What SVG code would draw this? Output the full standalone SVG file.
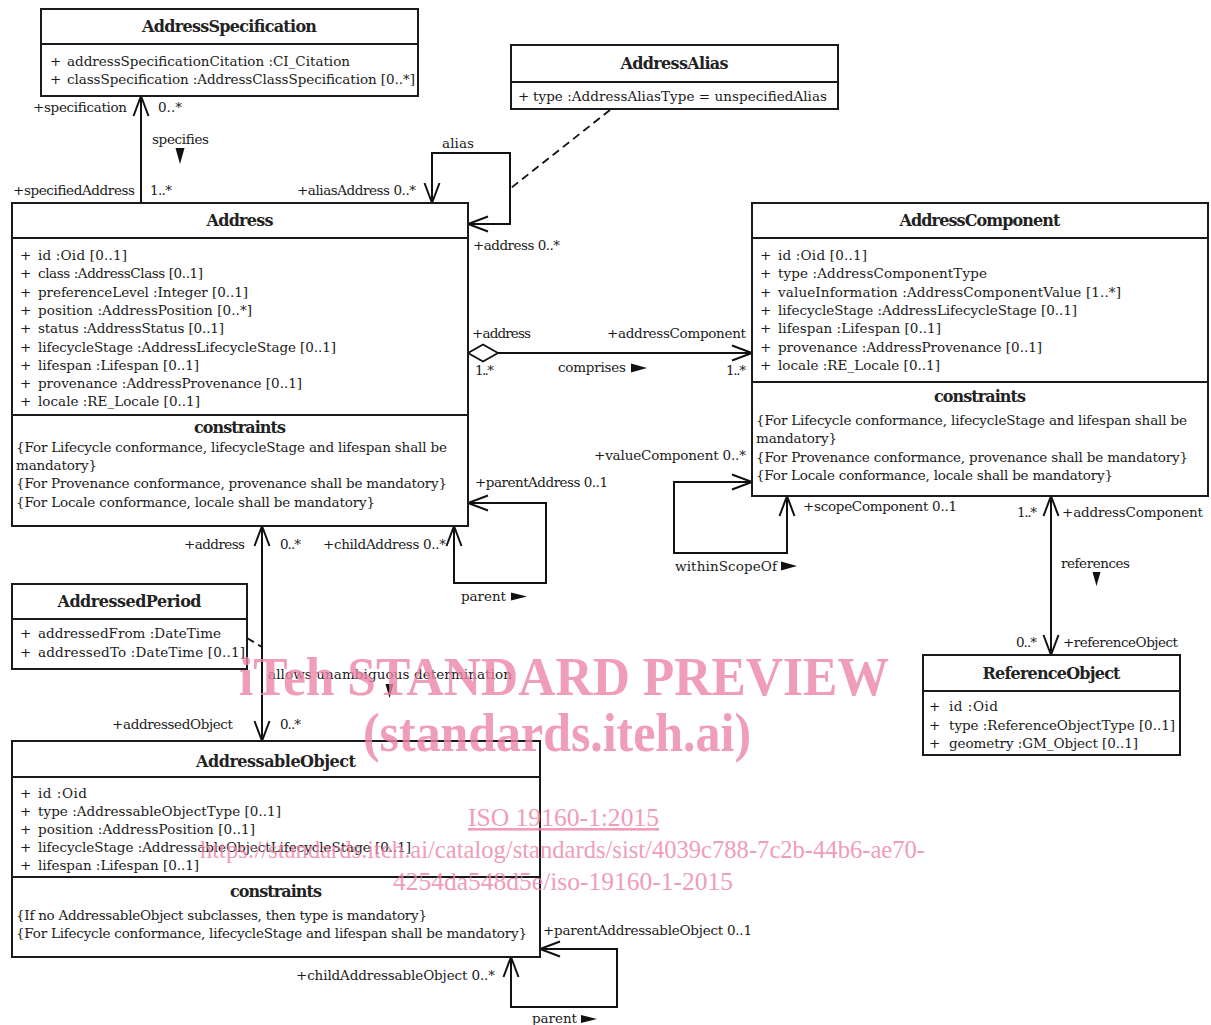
<svg xmlns="http://www.w3.org/2000/svg" width="1211" height="1025" viewBox="0 0 1211 1025">
<style>
.box{fill:#fff;stroke:#1a1a1a;stroke-width:2}
.div{stroke:#1a1a1a;stroke-width:2}
.ln{fill:none;stroke:#111;stroke-width:2}
.dash{fill:none;stroke:#111;stroke-width:1.8;stroke-dasharray:8 5}
.t{font-family:"DejaVu Serif",serif;font-size:13.5px;fill:#1a1a1a}
.h{font-family:"DejaVu Serif",serif;font-size:16px;font-weight:bold;fill:#222;text-anchor:middle}
.tri{fill:#111}
.wm{font-family:"Liberation Serif",serif;fill:#ec85a7;opacity:0.8}
.wb{font-size:54px;font-weight:bold}
.ws{font-size:26px}
</style>
<defs>
<marker id="open" viewBox="0 0 20 16" refX="20" refY="8" markerWidth="20" markerHeight="16" markerUnits="userSpaceOnUse" orient="auto-start-reverse" style="overflow:visible">
<path d="M0,0.5 L20,8 L0,15.5" fill="none" stroke="#111" stroke-width="2"/>
</marker>
<marker id="diamond" viewBox="0 0 30 18" refX="0" refY="9" markerWidth="30" markerHeight="18" markerUnits="userSpaceOnUse" orient="auto" style="overflow:visible">
<path d="M0,9 L15,0.5 L30,9 L15,17.5 Z" fill="#fff" stroke="#111" stroke-width="1.8"/>
</marker>
</defs>
<rect width="1211" height="1025" fill="#fff"/>

<g id="connectors">
<path class="ln" d="M141,203 V96" marker-end="url(#open)"/>
<path class="ln" d="M432,203 V153 H510 V224 H468" marker-start="url(#open)" marker-end="url(#open)"/>
<path class="dash" d="M610,110 L511,188"/>
<path class="ln" d="M468,353 H752" marker-start="url(#diamond)" marker-end="url(#open)"/>
<path class="ln" d="M752,482 H674 V553 H787 V496" marker-start="url(#open)" marker-end="url(#open)"/>
<path class="ln" d="M468,503 H546 V583 H454 V526" marker-start="url(#open)" marker-end="url(#open)"/>
<path class="ln" d="M262,526 V741" marker-start="url(#open)" marker-end="url(#open)"/>
<path class="dash" d="M247,638 L262,647"/>
<path class="ln" d="M1051,496 V655" marker-start="url(#open)" marker-end="url(#open)"/>
<path class="ln" d="M540,949 H617 V1007 H511 V957" marker-start="url(#open)" marker-end="url(#open)"/>

<text class="t" x="33" y="112" textLength="94">+specification</text>
<text class="t" x="158" y="112" textLength="24">0..*</text>
<text class="t" x="152" y="144" textLength="57">specifies</text>
<polygon class="tri" points="175.5,148 184.5,148 180,164"/>
<text class="t" x="13" y="195" textLength="122">+specifiedAddress</text>
<text class="t" x="150" y="195" textLength="22">1..*</text>
<text class="t" x="297" y="195" textLength="119">+aliasAddress 0..*</text>
<text class="t" x="442" y="148" textLength="32">alias</text>
<text class="t" x="473" y="250" textLength="87">+address 0..*</text>
<text class="t" x="472" y="338" textLength="59">+address</text>
<text class="t" x="607" y="338" textLength="139">+addressComponent</text>
<text class="t" x="475" y="375" textLength="19">1..*</text>
<text class="t" x="558" y="372" textLength="68">comprises</text>
<polygon class="tri" points="631,363.5 631,372.5 647,368"/>
<text class="t" x="726" y="375" textLength="20">1..*</text>
<text class="t" x="594" y="460" textLength="152">+valueComponent 0..*</text>
<text class="t" x="475" y="487" textLength="133">+parentAddress 0..1</text>
<text class="t" x="675" y="571" textLength="102">withinScopeOf</text>
<polygon class="tri" points="781,561.5 781,570.5 797,566"/>
<text class="t" x="803" y="511" textLength="154">+scopeComponent 0..1</text>
<text class="t" x="1017" y="517" textLength="20">1..*</text>
<text class="t" x="1062" y="517" textLength="141">+addressComponent</text>
<text class="t" x="1061" y="568" textLength="69">references</text>
<polygon class="tri" points="1092.5,572 1100.5,572 1096.5,586"/>
<text class="t" x="1016" y="647" textLength="21">0..*</text>
<text class="t" x="1063" y="647" textLength="115">+referenceObject</text>
<text class="t" x="184" y="549" textLength="61">+address</text>
<text class="t" x="280" y="549" textLength="21">0..*</text>
<text class="t" x="323" y="549" textLength="123">+childAddress 0..*</text>
<text class="t" x="461" y="601" textLength="45">parent</text>
<polygon class="tri" points="511,592.5 511,600.5 527,596.5"/>
<text class="t" x="268" y="679" textLength="244">allows unambiguous determination</text>
<polygon class="tri" points="385.5,684 393.5,684 389.5,698"/>
<text class="t" x="112" y="729" textLength="121">+addressedObject</text>
<text class="t" x="280" y="729" textLength="21">0..*</text>
<text class="t" x="296" y="980" textLength="199">+childAddressableObject 0..*</text>
<text class="t" x="543" y="935" textLength="209">+parentAddressableObject 0..1</text>
<text class="t" x="532" y="1023" textLength="45">parent</text>
<polygon class="tri" points="581,1015 581,1023 597,1019"/>
</g>

<g id="AddressSpecification">
<rect class="box" x="41" y="9" width="377" height="87"/>
<line class="div" x1="41" y1="44" x2="418" y2="44"/>
<text class="h" x="229.5" y="32" textLength="175">AddressSpecification</text>
<text class="t" x="50" y="66">+</text><text class="t" x="67" y="66" textLength="283">addressSpecificationCitation :CI_Citation</text>
<text class="t" x="50" y="84">+</text><text class="t" x="67" y="84" textLength="348">classSpecification :AddressClassSpecification [0..*]</text>
</g>

<g id="AddressAlias">
<rect class="box" x="511" y="45" width="327" height="64"/>
<line class="div" x1="511" y1="82" x2="838" y2="82"/>
<text class="h" x="674.5" y="69" textLength="108">AddressAlias</text>
<text class="t" x="518" y="101">+</text><text class="t" x="533" y="101" textLength="294">type :AddressAliasType = unspecifiedAlias</text>
</g>

<g id="Address">
<rect class="box" x="12" y="203" width="456" height="323"/>
<line class="div" x1="12" y1="238" x2="468" y2="238"/>
<line class="div" x1="12" y1="415" x2="468" y2="415"/>
<text class="h" x="240" y="226" textLength="67">Address</text>
<text class="t" x="20" y="260">+</text><text class="t" x="38" y="260" textLength="89">id :Oid [0..1]</text>
<text class="t" x="20" y="278">+</text><text class="t" x="38" y="278" textLength="165">class :AddressClass [0..1]</text>
<text class="t" x="20" y="297">+</text><text class="t" x="38" y="297" textLength="210">preferenceLevel :Integer [0..1]</text>
<text class="t" x="20" y="315">+</text><text class="t" x="38" y="315" textLength="214">position :AddressPosition [0..*]</text>
<text class="t" x="20" y="333">+</text><text class="t" x="38" y="333" textLength="186">status :AddressStatus [0..1]</text>
<text class="t" x="20" y="352">+</text><text class="t" x="38" y="352" textLength="298">lifecycleStage :AddressLifecycleStage [0..1]</text>
<text class="t" x="20" y="370">+</text><text class="t" x="38" y="370" textLength="161">lifespan :Lifespan [0..1]</text>
<text class="t" x="20" y="388">+</text><text class="t" x="38" y="388" textLength="264">provenance :AddressProvenance [0..1]</text>
<text class="t" x="20" y="406">+</text><text class="t" x="38" y="406" textLength="162">locale :RE_Locale [0..1]</text>
<text class="h" x="240" y="433" textLength="92">constraints</text>
<text class="t" x="16" y="452" textLength="431">{For Lifecycle conformance, lifecycleStage and lifespan shall be</text>
<text class="t" x="16" y="470" textLength="81">mandatory}</text>
<text class="t" x="16" y="488" textLength="431">{For Provenance conformance, provenance shall be mandatory}</text>
<text class="t" x="16" y="507" textLength="359">{For Locale conformance, locale shall be mandatory}</text>
</g>

<g id="AddressComponent">
<rect class="box" x="752" y="203" width="456" height="293"/>
<line class="div" x1="752" y1="238" x2="1208" y2="238"/>
<line class="div" x1="752" y1="382" x2="1208" y2="382"/>
<text class="h" x="980" y="226" textLength="161">AddressComponent</text>
<text class="t" x="760" y="260">+</text><text class="t" x="778" y="260" textLength="89">id :Oid [0..1]</text>
<text class="t" x="760" y="278">+</text><text class="t" x="778" y="278" textLength="209">type :AddressComponentType</text>
<text class="t" x="760" y="297">+</text><text class="t" x="778" y="297" textLength="343">valueInformation :AddressComponentValue [1..*]</text>
<text class="t" x="760" y="315">+</text><text class="t" x="778" y="315" textLength="299">lifecycleStage :AddressLifecycleStage [0..1]</text>
<text class="t" x="760" y="333">+</text><text class="t" x="778" y="333" textLength="163">lifespan :Lifespan [0..1]</text>
<text class="t" x="760" y="352">+</text><text class="t" x="778" y="352" textLength="264">provenance :AddressProvenance [0..1]</text>
<text class="t" x="760" y="370">+</text><text class="t" x="778" y="370" textLength="162">locale :RE_Locale [0..1]</text>
<text class="h" x="980" y="402" textLength="92">constraints</text>
<text class="t" x="756" y="425" textLength="431">{For Lifecycle conformance, lifecycleStage and lifespan shall be</text>
<text class="t" x="756" y="443" textLength="81">mandatory}</text>
<text class="t" x="756" y="462" textLength="432">{For Provenance conformance, provenance shall be mandatory}</text>
<text class="t" x="756" y="480" textLength="357">{For Locale conformance, locale shall be mandatory}</text>
</g>

<g id="AddressedPeriod">
<rect class="box" x="12" y="584" width="235" height="85"/>
<line class="div" x1="12" y1="619" x2="247" y2="619"/>
<text class="h" x="129.5" y="607" textLength="144">AddressedPeriod</text>
<text class="t" x="20" y="638">+</text><text class="t" x="38" y="638" textLength="183">addressedFrom :DateTime</text>
<text class="t" x="20" y="657">+</text><text class="t" x="38" y="657" textLength="207">addressedTo :DateTime [0..1]</text>
</g>

<g id="AddressableObject">
<rect class="box" x="12" y="741" width="528" height="216"/>
<line class="div" x1="12" y1="777" x2="540" y2="777"/>
<line class="div" x1="12" y1="877" x2="540" y2="877"/>
<text class="h" x="276" y="767" textLength="160">AddressableObject</text>
<text class="t" x="20" y="798">+</text><text class="t" x="38" y="798" textLength="49">id :Oid</text>
<text class="t" x="20" y="816">+</text><text class="t" x="38" y="816" textLength="243">type :AddressableObjectType [0..1]</text>
<text class="t" x="20" y="834">+</text><text class="t" x="38" y="834" textLength="217">position :AddressPosition [0..1]</text>
<text class="t" x="20" y="852">+</text><text class="t" x="38" y="852" textLength="373">lifecycleStage :AddressableObjectLifecycleStage [0..1]</text>
<text class="t" x="20" y="870">+</text><text class="t" x="38" y="870" textLength="161">lifespan :Lifespan [0..1]</text>
<text class="h" x="276" y="897" textLength="92">constraints</text>
<text class="t" x="16" y="920" textLength="411">{If no AddressableObject subclasses, then type is mandatory}</text>
<text class="t" x="16" y="938" textLength="511">{For Lifecycle conformance, lifecycleStage and lifespan shall be mandatory}</text>
</g>

<g id="ReferenceObject">
<rect class="box" x="923" y="655" width="257" height="100"/>
<line class="div" x1="923" y1="691" x2="1180" y2="691"/>
<text class="h" x="1051.5" y="679" textLength="138">ReferenceObject</text>
<text class="t" x="929" y="711">+</text><text class="t" x="949" y="711" textLength="49">id :Oid</text>
<text class="t" x="929" y="730">+</text><text class="t" x="949" y="730" textLength="226">type :ReferenceObjectType [0..1]</text>
<text class="t" x="929" y="748">+</text><text class="t" x="949" y="748" textLength="189">geometry :GM_Object [0..1]</text>
</g>

<g id="watermark" class="wm">
<text class="wb" x="239" y="695" textLength="650" lengthAdjust="spacingAndGlyphs">iTeh STANDARD PREVIEW</text>
<text class="wb" x="363" y="751" textLength="388" lengthAdjust="spacingAndGlyphs">(standards.iteh.ai)</text>
<text class="ws" x="468" y="826" textLength="191" lengthAdjust="spacingAndGlyphs" text-decoration="underline">ISO 19160-1:2015</text>
<text class="ws" x="200" y="858" textLength="725" lengthAdjust="spacingAndGlyphs">https://standards.iteh.ai/catalog/standards/sist/4039c788-7c2b-44b6-ae70-</text>
<text class="ws" x="393" y="890" textLength="340" lengthAdjust="spacingAndGlyphs">4254da548d5e/iso-19160-1-2015</text>
</g>
</svg>
